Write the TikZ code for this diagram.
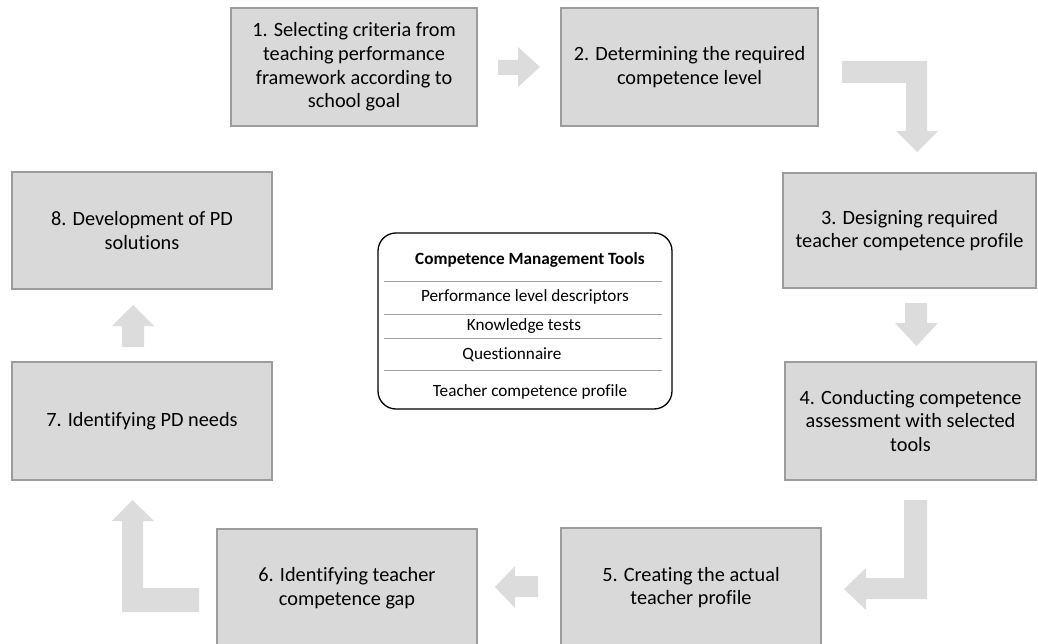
\documentclass[tikz,border=0pt]{standalone}
\usepackage{fontspec}
\setmainfont{Carlito}[Ligatures={NoCommon}]
\definecolor{boxfill}{HTML}{D9D9D9}
\definecolor{boxline}{HTML}{9C9C9C}
\definecolor{arrowfill}{HTML}{DCDCDC}
\definecolor{sepline}{HTML}{A0A0A0}
\begin{document}
\begin{tikzpicture}[x=1pt,y=-1pt,
  stepbox/.style={draw=boxline, fill=boxfill, line width=1.1pt, align=center,
    inner sep=0pt, font=\fontsize{20.3}{23.6}\selectfont},
  blockarrow/.style={fill=arrowfill, draw=none},
  toolbox/.style={draw=black, line width=1.3pt, rounded corners=18pt, fill=white},
  tooltext/.style={inner sep=0pt, font=\fontsize{17.2}{19}\selectfont},
  toolsep/.style={draw=sepline, line width=0.8pt}]
\useasboundingbox (0,0) rectangle (1038,644);

% process steps
\node[stepbox, minimum width=246, minimum height=118] (b1) at (354,67)
  {1. Selecting criteria from\\teaching performance\\framework according to\\school goal};
\node[stepbox, minimum width=257, minimum height=118] (b2) at (689.5,67)
  {2. Determining the required\\competence level};
\node[stepbox, minimum width=253, minimum height=115] (b3) at (909.5,230.5)
  {3. Designing required\\teacher competence profile};
\node[stepbox, minimum width=251, minimum height=118] (b4) at (910.5,421)
  {4. Conducting competence\\assessment with selected\\tools};
\node[stepbox, minimum width=260, minimum height=119] (b5) at (691,587.5)
  {5. Creating the actual\\teacher profile};
\node[stepbox, minimum width=260, minimum height=118] (b6) at (347,588)
  {6. Identifying teacher\\competence gap};
\node[stepbox, minimum width=260, minimum height=118] (b7) at (142,421)
  {7. Identifying PD needs};
\node[stepbox, minimum width=260, minimum height=117] (b8) at (142,230.5)
  {8. Development of PD\\solutions};

% block arrows between the steps
\fill[blockarrow] (498,60) -- (518,60) -- (518,47) -- (540,67) -- (518,87) -- (518,75) -- (498,75) -- cycle;
\fill[blockarrow] (842,61) -- (927,61) -- (927,131) -- (938,131) -- (917,152) -- (896,131) -- (906,131) -- (906,83) -- (842,83) -- cycle;
\fill[blockarrow] (905,303) -- (927,303) -- (927,323) -- (938,323) -- (916.5,346) -- (895,323) -- (905,323) -- cycle;
\fill[blockarrow] (904,500) -- (927,500) -- (927,599) -- (866,599) -- (866,610) -- (844,589) -- (866,568) -- (866,578) -- (904,578) -- cycle;
\fill[blockarrow] (538,576) -- (538,597) -- (515,597) -- (515,608) -- (495,587) -- (515,566) -- (515,576) -- cycle;
\fill[blockarrow] (199,588) -- (199,612) -- (122,612) -- (122,521) -- (112,521) -- (132.5,500) -- (154,521) -- (143,521) -- (143,588) -- cycle;
\fill[blockarrow] (122,347) -- (144,347) -- (144,326) -- (154,326) -- (133,305) -- (112,326) -- (122,326) -- cycle;

% tool list in the middle
\node[toolbox, minimum width=294, minimum height=176] (tools) at (525,321) {};
\node[tooltext, font=\fontsize{17.2}{19}\selectfont\bfseries] (t0) at (530,260) {Competence Management Tools};
\node[tooltext] (t1) at (525,297) {Performance level descriptors};
\node[tooltext] (t2) at (524,326) {Knowledge tests};
\node[tooltext] (t3) at (512,355) {Questionnaire};
\node[tooltext] (t4) at (530,392) {Teacher competence profile};
\draw[toolsep] (384,281) -- (662,281);
\draw[toolsep] (384,314) -- (662,314);
\draw[toolsep] (384,338) -- (662,338);
\draw[toolsep] (384,370) -- (662,370);
\end{tikzpicture}
\end{document}
